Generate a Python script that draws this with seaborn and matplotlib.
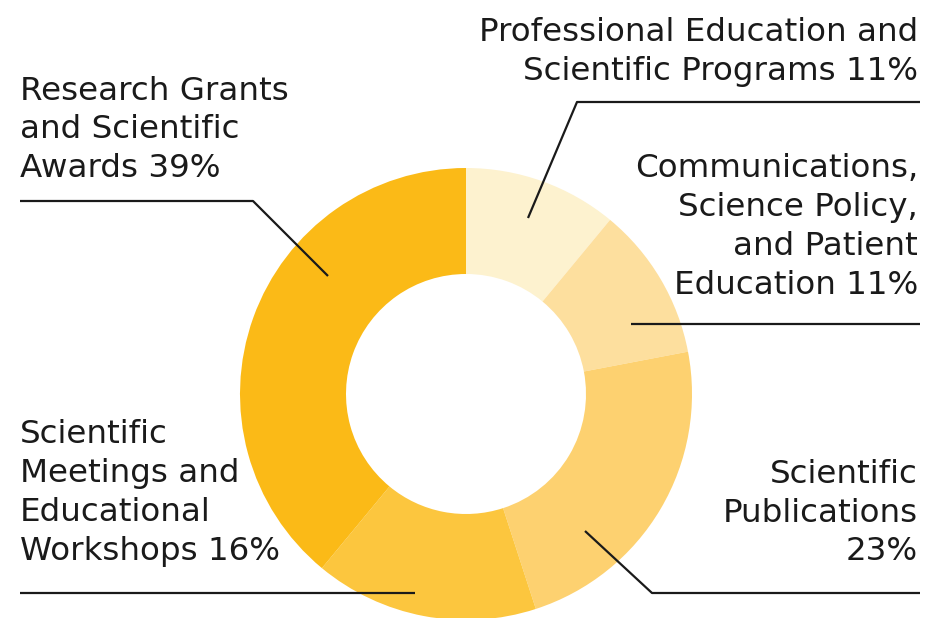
import matplotlib
matplotlib.use("Agg")
import matplotlib.pyplot as plt
import seaborn as sns

sns.set_theme(style="white")
plt.rcParams["font.family"] = ["DejaVu Sans"]

# data, clockwise from 12 o'clock
categories = ["Professional Education and Scientific Programs",
              "Communications, Science Policy, and Patient Education",
              "Scientific Publications",
              "Scientific Meetings and Educational Workshops",
              "Research Grants and Scientific Awards"]
shares = [11, 11, 23, 16, 39]
colors = ["#FDF2CF", "#FDDF9E", "#FDD170", "#FCC63E", "#FBBA17"]
labels = ["Professional Education and\nScientific Programs 11%",
          "Communications,\nScience Policy,\nand Patient\nEducation 11%",
          "Scientific\nPublications\n23%",
          "Scientific\nMeetings and\nEducational\nWorkshops 16%",
          "Research Grants\nand Scientific\nAwards 39%"]

W, H = 936, 618
fig = plt.figure(figsize=(W / 100, H / 100), dpi=100)
ax = fig.add_axes([0, 0, 1, 1])

cx, cy, R = 466, H - 394, 226
ax.pie(shares, colors=colors, startangle=90, counterclock=False,
       center=(cx, cy), radius=R,
       wedgeprops=dict(width=106, linewidth=0))
ax.set_xlim(0, W)
ax.set_ylim(0, H)
ax.set_aspect("auto")
ax.axis("off")

def py(y):
    return H - y

# label positions (x, y-center in px, alignment) and leader lines
label_pos = [(918, 52, "right"), (918, 227, "right"), (918, 513, "right"),
             (20, 493, "left"), (20, 130, "left")]
leaders = [[(528, 218), (577, 102), (920, 102)],
           [(631, 324), (920, 324)],
           [(585, 531), (652, 593), (920, 593)],
           [(415, 593), (20, 593)],
           [(328, 276), (253, 201), (20, 201)]]

for lab, (x, y, ha) in zip(labels, label_pos):
    ax.text(x, py(y), lab, ha=ha, va="center", multialignment=ha,
            fontsize=23.4, color="#1a1a1a", linespacing=1.33)

for pts in leaders:
    ax.plot([p[0] for p in pts], [py(p[1]) for p in pts],
            color="#1a1a1a", lw=1.6, solid_capstyle="butt")

fig.savefig("out.png", dpi=100)
